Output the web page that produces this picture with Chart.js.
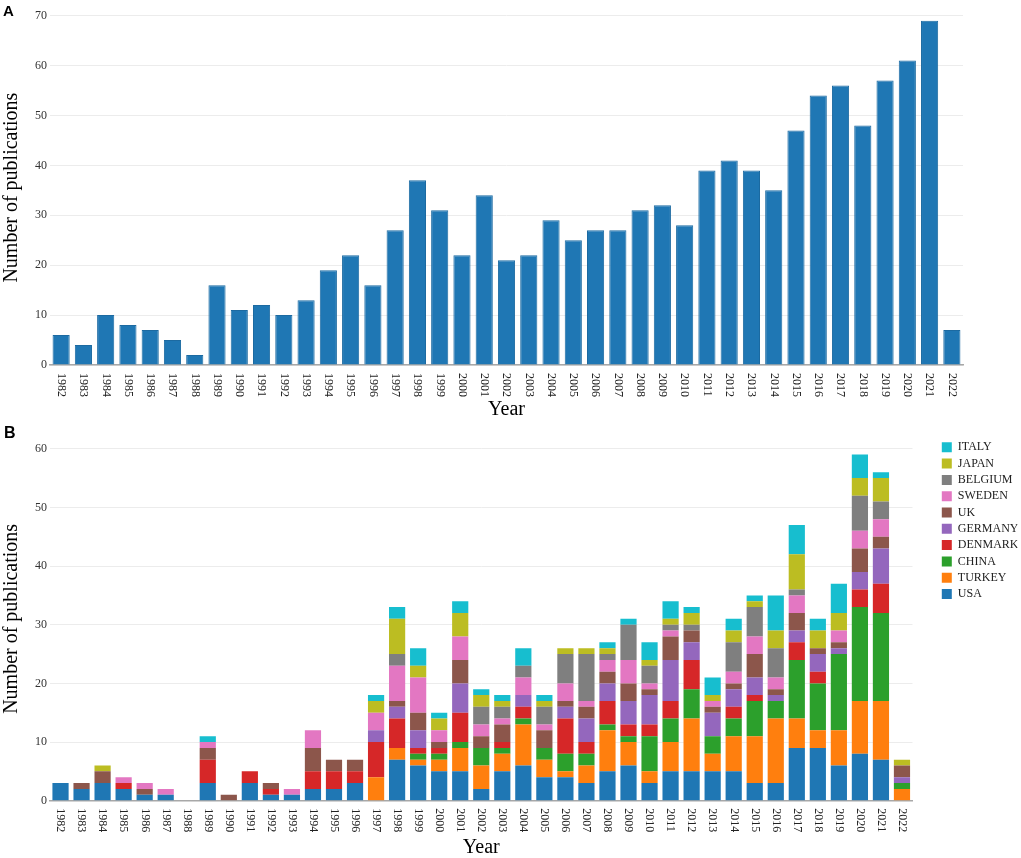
<!DOCTYPE html>
<html>
<head>
<meta charset="utf-8">
<script src="https://cdn.jsdelivr.net/npm/chart.js@4.4.1/dist/chart.umd.min.js"></script>
<style>
  html, body { margin: 0; padding: 0; background: #fff; }
  #wrap { position: relative; width: 1021px; height: 858px; }
  .panel { position: absolute; left: 0; width: 1021px; }
  #pA { top: 0; height: 420px; }
  #pB { top: 420px; height: 438px; }
  .tag { position: absolute; font-family: "Liberation Sans", Arial, sans-serif; font-weight: bold; color: #000; }
</style>
</head>
<body>
<div id="wrap">
  <div class="panel" id="pA"><canvas id="cA"></canvas></div>
  <div class="panel" id="pB"><canvas id="cB"></canvas></div>
  <div class="tag" style="left:3px; top:2px; font-size:15px;">A</div>
  <div class="tag" style="left:4px; top:424px; font-size:16px;">B</div>
</div>
<script>
// ---- Data ----
const years = ["1982","1983","1984","1985","1986","1987","1988","1989","1990","1991","1992","1993","1994","1995","1996","1997","1998","1999","2000","2001","2002","2003","2004","2005","2006","2007","2008","2009","2010","2011","2012","2013","2014","2015","2016","2017","2018","2019","2020","2021","2022"];
const totalPublications = [6,4,10,8,7,5,2,16,11,12,10,13,19,22,16,27,37,31,22,34,21,22,29,25,27,27,31,32,28,39,41,39,35,47,54,56,48,57,61,69,7];
const yTicksA = [0,10,20,30,40,50,60,70];
const yTicksB = [0,10,20,30,40,50,60];

const USA     = [3,2,3,2,1,1,0,3,0,3,1,1,2,2,3,0,7,6,5,5,2,5,6,4,4,3,5,6,3,5,5,5,5,3,3,9,9,6,8,7,0];
const TURKEY  = [0,0,0,0,0,0,0,0,0,0,0,0,0,0,0,4,2,1,2,4,4,3,7,3,1,3,7,4,2,5,9,3,6,8,11,5,3,6,9,10,2];
const CHINA   = [0,0,0,0,0,0,0,0,0,0,0,0,0,0,0,0,0,1,1,1,3,1,1,2,3,2,1,1,6,4,5,3,3,6,3,10,8,13,16,15,1];
const DENMARK = [0,0,0,1,0,0,0,4,0,2,1,0,3,3,2,6,5,1,1,5,0,1,2,0,6,2,4,2,2,3,5,0,2,1,0,3,2,0,3,5,0];
const GERMANY = [0,0,0,0,0,0,0,0,0,0,0,0,0,0,0,2,2,3,0,5,0,0,2,0,2,4,3,4,5,7,3,4,3,3,1,2,3,1,3,6,1];
const UK      = [0,1,2,0,1,0,0,2,1,0,1,0,4,2,2,0,1,3,1,4,2,3,0,3,1,2,2,3,1,4,2,1,1,4,1,3,1,1,4,2,2];
const SWEDEN  = [0,0,0,1,1,1,0,1,0,0,0,1,3,0,0,3,6,6,2,4,2,1,3,1,3,1,2,4,1,1,0,1,2,3,2,3,0,2,3,3,0];
const BELGIUM = [0,0,0,0,0,0,0,0,0,0,0,0,0,0,0,0,2,0,0,0,3,2,2,3,5,8,1,6,3,1,1,0,5,5,5,1,0,0,6,3,0];
const JAPAN   = [0,0,1,0,0,0,0,0,0,0,0,0,0,0,0,2,6,2,2,4,2,1,0,1,1,1,1,0,1,1,2,1,2,1,3,6,3,3,3,4,1];
const ITALY   = [0,0,0,0,0,0,0,1,0,0,0,0,0,0,0,1,2,3,1,2,1,1,3,1,0,0,1,1,3,3,1,3,2,1,6,5,2,5,4,1,0];

const countryNames  = ["USA","TURKEY","CHINA","DENMARK","GERMANY","UK","SWEDEN","BELGIUM","JAPAN","ITALY"];
const countrySeries = [USA, TURKEY, CHINA, DENMARK, GERMANY, UK, SWEDEN, BELGIUM, JAPAN, ITALY];
const countryColors = ["#1f77b4","#ff7f0e","#2ca02c","#d62728","#9467bd","#8c564b","#e377c2","#7f7f7f","#bcbd22","#17becf"];

// ---- Styling helpers ----
const SERIF = '"Liberation Serif", "Times New Roman", Times, serif';

const rotLabels = {
  id: 'rotLabels',
  afterDraw(chart, args, opts) {
    const xs = chart.scales.x;
    const ctx = chart.ctx;
    ctx.save();
    ctx.font = '12px ' + SERIF;
    ctx.fillStyle = '#222';
    ctx.textAlign = 'left';
    ctx.textBaseline = 'middle';
    xs.getLabels().forEach((lab, i) => {
      const px = xs.getPixelForValue(i);
      ctx.save();
      ctx.translate(px, chart.chartArea.bottom + opts.gap);
      ctx.rotate(Math.PI / 2);
      ctx.fillText(lab, 0, 0);
      ctx.restore();
    });
    ctx.restore();
  }
};

function yAxis(max, tickList) {
  return {
    min: 0, max: max,
    afterBuildTicks: s => { s.ticks = tickList.map(v => ({ value: v })); },
    ticks: { font: { family: SERIF, size: 12 }, color: '#333', padding: 3 },
    grid: { color: '#ececec', lineWidth: 1, drawTicks: false },
    border: { display: false },
    title: { display: true, text: 'Number of publications', color: '#000',
             font: { family: SERIF, size: 20, lineHeight: 1 }, padding: { top: 2, bottom: 0 } },
    afterFit: s => { s.width = 50; }
  };
}
function xAxis(h) {
  return {
    type: 'category',
    grid: { display: false, drawTicks: false },
    border: { display: true, color: '#a8a8a8', width: 1.5 },
    ticks: { display: false, autoSkip: false },
    title: { display: true, text: 'Year', color: '#000',
             font: { family: SERIF, size: 20, lineHeight: 1 }, padding: { top: 0, bottom: 0 } },
    afterFit: s => { s.height = h; }
  };
}

// ---- Panel A ----
new Chart(document.getElementById('cA'), {
  type: 'bar',
  data: {
    labels: years,
    datasets: [{
      label: 'Publications',
      data: totalPublications,
      backgroundColor: '#1f77b4',
      borderColor: '#1c6aa1',
      borderWidth: 1,
      barPercentage: 0.77,
      categoryPercentage: 1.0
    }]
  },
  options: {
    responsive: true, maintainAspectRatio: false, animation: false,
    layout: { padding: { left: 0, right: 58, top: 0, bottom: 0 } },
    plugins: { legend: { display: false }, tooltip: { enabled: false }, rotLabels: { gap: 8 } },
    scales: { x: xAxis(55), y: yAxis(71.1, yTicksA) }
  },
  plugins: [rotLabels]
});

// ---- Panel B ----
new Chart(document.getElementById('cB'), {
  type: 'bar',
  data: {
    labels: years,
    datasets: countryNames.map((n, i) => ({
      label: n,
      data: countrySeries[i],
      backgroundColor: countryColors[i],
      borderColor: countryColors[i],
      borderWidth: 0,
      barPercentage: 0.77,
      categoryPercentage: 1.0
    }))
  },
  options: {
    responsive: true, maintainAspectRatio: false, animation: false,
    layout: { padding: { left: 0, right: 3.5, top: 17, bottom: 0 } },
    plugins: {
      tooltip: { enabled: false },
      rotLabels: { gap: 7.5 },
      legend: {
        position: 'right', align: 'start', reverse: true, maxWidth: 80,
        labels: { boxWidth: 10, boxHeight: 10, padding: 4.3, color: '#222',
                  font: { family: SERIF, size: 12 } }
      }
    },
    scales: {
      x: Object.assign(xAxis(57.3), { stacked: true }),
      y: Object.assign(yAxis(62, yTicksB), { stacked: true }),
      yR: {
        type: 'linear', position: 'right', display: true,
        grid: { display: false, drawTicks: false }, border: { display: false },
        ticks: { display: false },
        afterFit: s => { s.width = 25; }
      }
    }
  },
  plugins: [rotLabels]
});
</script>
</body>
</html>
